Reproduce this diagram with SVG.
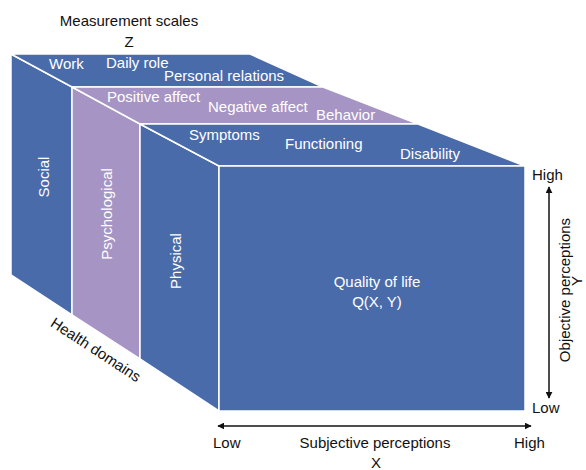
<svg xmlns="http://www.w3.org/2000/svg" width="586" height="470" viewBox="0 0 586 470">
<style>
.blue{fill:#4a6baa;stroke:#ffffff;stroke-width:1.5;stroke-linejoin:miter}
.purple{fill:#a695c4;stroke:#ffffff;stroke-width:1.5;stroke-linejoin:miter}
text{font-family:"Liberation Sans",Arial,sans-serif;font-size:15px}
.w{fill:#ffffff}
.k{fill:#111111}
.m{text-anchor:middle}
.axis{stroke:#111111;stroke-width:1.5;fill:none}
</style>
<defs>
<marker id="ah" viewBox="0 0 10 10" refX="9" refY="5" markerWidth="7" markerHeight="7" orient="auto-start-reverse" markerUnits="userSpaceOnUse">
<path d="M0,0 L10,5 L0,10 z" fill="#111111"/>
</marker>
</defs>
<rect width="586" height="470" fill="#ffffff"/>
<g id="social">
<polygon class="blue" points="11,54 72,87 72,315 11,275"/>
<polygon class="blue" points="11,54 250,54 323,87 72,87"/>
<text class="w" x="49" y="69">Work</text>
<text class="w" x="106" y="68">Daily role</text>
<text class="w" x="164" y="81">Personal relations</text>
<text class="w m" transform="translate(49,177) rotate(-90)">Social</text>
</g>
<g id="psychological">
<polygon class="purple" points="72,87 140,124 140,359 72,315"/>
<polygon class="purple" points="72,87 323,87 418,124 140,124"/>
<text class="w" x="107" y="102">Positive affect</text>
<text class="w" x="208" y="112">Negative affect</text>
<text class="w" x="316" y="120">Behavior</text>
<text class="w m" transform="translate(112,214) rotate(-90)">Psychological</text>
</g>
<g id="physical">
<polygon class="blue" points="140,124 219,166 219,411 140,359"/>
<polygon class="blue" points="140,124 418,124 525,166 219,166"/>
<text class="w" x="189" y="140">Symptoms</text>
<text class="w" x="285" y="149">Functioning</text>
<text class="w" x="400" y="159">Disability</text>
<text class="w m" transform="translate(181,261) rotate(-90)">Physical</text>
</g>
<g id="quality">
<rect class="blue" x="219" y="166" width="306" height="245"/>
<text class="w m" x="377" y="287">Quality of life</text>
<text class="w m" x="377" y="307">Q(X, Y)</text>
</g>
<g id="labels">
<text class="k m" x="129" y="26">Measurement scales</text>
<text class="k m" x="129" y="47">Z</text>
<text class="k m" transform="translate(93,354) rotate(33.2)">Health domains</text>
<text class="k" x="532" y="180">High</text>
<text class="k" x="532" y="413">Low</text>
<text class="k m" transform="translate(570,290) rotate(-90)">Objective perceptions</text>
<text class="k m" transform="translate(582,281) rotate(-90)">Y</text>
<text class="k" x="213" y="448">Low</text>
<text class="k m" x="375" y="448">Subjective perceptions</text>
<text class="k" x="514" y="448">High</text>
<text class="k m" x="376" y="468">X</text>
</g>
<g id="connectors">
<line class="axis" x1="549" y1="187" x2="549" y2="398" marker-start="url(#ah)" marker-end="url(#ah)"/>
<line class="axis" x1="218" y1="426" x2="531" y2="426" marker-start="url(#ah)" marker-end="url(#ah)"/>
</g>
</svg>
